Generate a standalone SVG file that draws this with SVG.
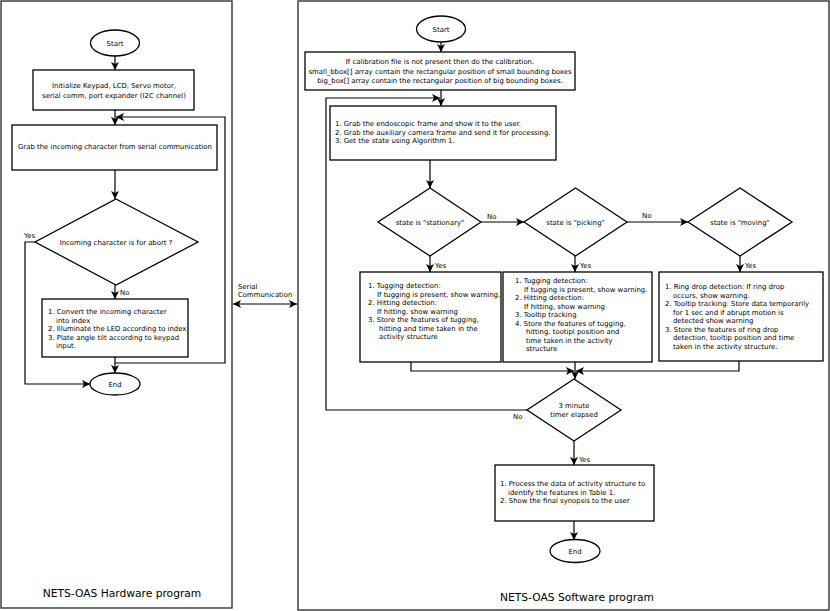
<svg xmlns="http://www.w3.org/2000/svg" width="830" height="611" viewBox="0 0 830 611">
<style>
text{font-family:"DejaVu Sans","Verdana",sans-serif;font-size:6.9px;fill:#000}
.t{font-size:10.7px}
.c{text-anchor:middle}
.shape{fill:#fff;stroke:#000;stroke-width:1.3}
.panel{fill:#fff;stroke:#333;stroke-width:1.4}
.conn{fill:none;stroke:#000;stroke-width:1.2}
</style>
<defs>
<marker id="ah" viewBox="0 0 8 8" refX="8" refY="4" markerWidth="8" markerHeight="8" markerUnits="userSpaceOnUse" orient="auto-start-reverse">
<path d="M0,0 L8,4 L0,8 L2,4 z" fill="#000"/>
</marker>
</defs>
<rect class="panel" x="1" y="1" width="231" height="607"/>
<rect class="panel" x="298" y="1" width="531" height="609"/>

<g id="connectors">
<path class="conn" d="M115,56 V70" marker-end="url(#ah)"/>
<path class="conn" d="M115,110 V125" marker-end="url(#ah)"/>
<path class="conn" d="M115,170 V199" marker-end="url(#ah)"/>
<path class="conn" d="M115,285 V299" marker-end="url(#ah)"/>
<path class="conn" d="M115,357 V373" marker-end="url(#ah)"/>
<path class="conn" d="M115,363 H225 V117 H116" marker-end="url(#ah)"/>
<path class="conn" d="M35,242 H25 V384 H90" marker-end="url(#ah)"/>
<path class="conn" d="M233,304 H297" marker-start="url(#ah)" marker-end="url(#ah)"/>
<path class="conn" d="M441,42 V52" marker-end="url(#ah)"/>
<path class="conn" d="M441,90 V106" marker-end="url(#ah)"/>
<path class="conn" d="M527,410 H326 V98 H440" marker-end="url(#ah)"/>
<path class="conn" d="M430,160 V188" marker-end="url(#ah)"/>
<path class="conn" d="M481,222 H524" marker-end="url(#ah)"/>
<path class="conn" d="M627,222 H688" marker-end="url(#ah)"/>
<path class="conn" d="M430,256 V272" marker-end="url(#ah)"/>
<path class="conn" d="M575,256 V272" marker-end="url(#ah)"/>
<path class="conn" d="M740,256 V272" marker-end="url(#ah)"/>
<path class="conn" d="M411,362 V371 H574" marker-end="url(#ah)"/>
<path class="conn" d="M739,361 V371 H576" marker-end="url(#ah)"/>
<path class="conn" d="M575,362 V379" marker-end="url(#ah)"/>
<path class="conn" d="M574,441 V465" marker-end="url(#ah)"/>
<path class="conn" d="M574,521 V540" marker-end="url(#ah)"/>
<text x="24" y="238">Yes</text>
<text x="120" y="295">No</text>
<text x="238" y="289">Serial</text>
<text x="238" y="297">Communication</text>
<text x="487" y="219">No</text>
<text x="642" y="218">No</text>
<text x="435" y="268">Yes</text>
<text x="580" y="268">Yes</text>
<text x="745" y="268">Yes</text>
<text x="513" y="419">No</text>
<text x="579" y="462">Yes</text>
</g>

<g id="hw-start">
<ellipse class="shape" cx="115" cy="43" rx="24.5" ry="13"/>
<text class="c" x="115" y="45.5">Start</text>
</g>
<g id="hw-init">
<rect class="shape" x="33" y="70" width="161" height="40"/>
<text class="c" x="114" y="88">Initialize Keypad, LCD, Servo motor,</text>
<text class="c" x="114" y="98">serial comm, port expander (I2C channel)</text>
</g>
<g id="hw-grab">
<rect class="shape" x="12" y="125" width="205" height="45"/>
<text class="c" x="115" y="149">Grab the incoming character from serial communication</text>
</g>
<g id="hw-abort">
<polygon class="shape" points="116,199 198,242 116,285 35,242"/>
<text class="c" x="116" y="244.5">Incoming character is for abort ?</text>
</g>
<g id="hw-process">
<rect class="shape" x="42" y="299" width="146" height="58"/>
<text x="48" y="314">1. Convert the incoming character</text>
<text x="56" y="322.5">into index</text>
<text x="48" y="331">2. Illuminate the LED according to index</text>
<text x="48" y="339.5">3. Plate angle tilt according to keypad</text>
<text x="56" y="348">input.</text>
</g>
<g id="hw-end">
<ellipse class="shape" cx="115" cy="384" rx="25" ry="11"/>
<text class="c" x="115" y="386.5">End</text>
</g>
<text class="t c" x="122" y="597">NETS-OAS Hardware program</text>

<g id="sw-start">
<ellipse class="shape" cx="441" cy="29" rx="24.5" ry="13"/>
<text class="c" x="441" y="31.5">Start</text>
</g>
<g id="sw-calib">
<rect class="shape" x="305" y="52" width="270" height="38"/>
<text class="c" x="440" y="64">If calibration file is not present then do the calibration.</text>
<text class="c" x="440" y="73.5">small_bbox[] array contain the rectangular position of small bounding boxes</text>
<text class="c" x="440" y="83">big_box[] array contain the rectangular position of big bounding boxes.</text>
</g>
<g id="sw-grab">
<rect class="shape" x="330" y="106" width="226" height="54"/>
<text x="335" y="126">1. Grab the endoscopic frame and show it to the user.</text>
<text x="335" y="134.5">2. Grab the auxiliary camera frame and send it for processing.</text>
<text x="335" y="143">3. Get the state using Algorithm 1.</text>
</g>
<g id="sw-stationary">
<polygon class="shape" points="430,188 481,222 430,256 378,222"/>
<text class="c" x="430" y="224.5">state is "stationary"</text>
</g>
<g id="sw-picking">
<polygon class="shape" points="575.5,188 627,222 575.5,256 524,222"/>
<text class="c" x="575.5" y="224.5">state is "picking"</text>
</g>
<g id="sw-moving">
<polygon class="shape" points="740,188 792,222 740,256 688,222"/>
<text class="c" x="740" y="224.5">state is "moving"</text>
</g>
<g id="sw-box-stationary">
<rect class="shape" x="360" y="272" width="141" height="90"/>
<text x="368" y="288">1. Tugging detection:</text>
<text x="377" y="296.5">If tugging is present, show warning.</text>
<text x="368" y="305">2. Hitting detection:</text>
<text x="377" y="313.5">If hitting, show warning</text>
<text x="368" y="322">3. Store the features of tugging,</text>
<text x="379" y="330.5">hitting and time taken in the</text>
<text x="379" y="339">activity structure</text>
</g>
<g id="sw-box-picking">
<rect class="shape" x="503" y="272" width="149" height="90"/>
<text x="515" y="283">1. Tugging detection:</text>
<text x="524" y="291.5">If tugging is present, show warning.</text>
<text x="515" y="300">2. Hitting detection:</text>
<text x="524" y="308.5">If hitting, show warning</text>
<text x="515" y="317">3. Tooltip tracking</text>
<text x="515" y="325.5">4. Store the features of tugging,</text>
<text x="526" y="334">hitting, tootipl position and</text>
<text x="526" y="342.5">time taken in the activity</text>
<text x="526" y="351">structure</text>
</g>
<g id="sw-box-moving">
<rect class="shape" x="659" y="272" width="164" height="89"/>
<text x="665" y="289">1. Ring drop detection: If ring drop</text>
<text x="673" y="297.5">occurs, show warning.</text>
<text x="665" y="306">2. Tooltip tracking: Store data temporarily</text>
<text x="673" y="314.5">for 1 sec and if abrupt motion is</text>
<text x="673" y="323">detected show warning</text>
<text x="665" y="331.5">3. Store the features of ring drop</text>
<text x="673" y="340">detection, tooltip position and time</text>
<text x="673" y="348.5">taken in the activity structure.</text>
</g>
<g id="sw-timer">
<polygon class="shape" points="574,379 621,410 574,441 527,410"/>
<text class="c" x="574" y="408">3 minute</text>
<text class="c" x="574" y="416.5">timer elapsed</text>
</g>
<g id="sw-final">
<rect class="shape" x="495" y="465" width="159" height="56"/>
<text x="500" y="486">1. Process the data of activity structure to</text>
<text x="508" y="494.5">identify the features in Table 1.</text>
<text x="500" y="503">2. Show the final synopsis to the user</text>
</g>
<g id="sw-end">
<ellipse class="shape" cx="575" cy="551" rx="25" ry="11.5"/>
<text class="c" x="575" y="553.5">End</text>
</g>
<text class="t c" x="577" y="601">NETS-OAS Software program</text>
</svg>
